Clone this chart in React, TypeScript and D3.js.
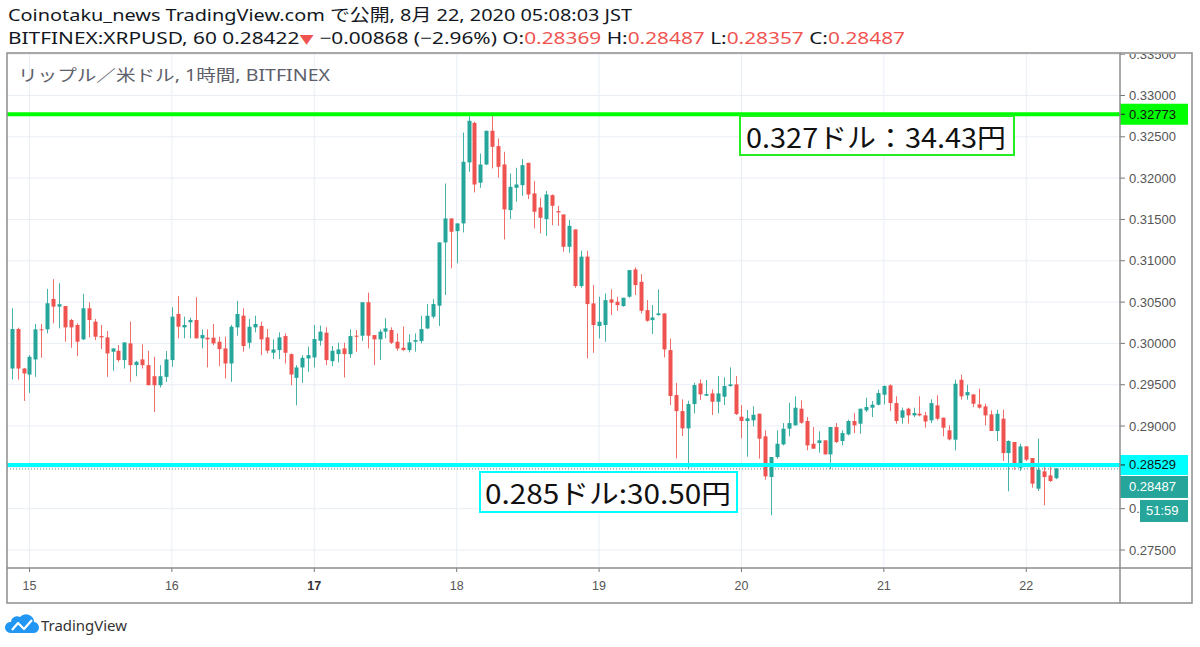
import React from 'react';
import * as d3 from 'd3';

// Hour index of first candle, relative to Aug 15 00:00 JST (1h candles)
const firstHour = -3;

const opens = [
  .29696,.30174,.29696,.29623,.29806,.30170,.30170,.30538,.30445,.30453,.30283,.30223,.30049,
  .30425,.30263,.30089,.30073,.29899,.29911,.29798,.30000,.29737,.29806,
  .29737,.29603,.29494,.29595,.29798,.30356,.30194,.30255,.30283,.30061,
  .30069,.30069,.30020,.29939,.29757,.30194,.30336,.30008,.30194,.30211,
  .30073,.29887,.29919,.30089,.29870,.29583,.29709,.29818,.29830,.30032,
  .30130,.29785,.29870,.29939,.29870,.30093,.30093,.30498,.30101,.30049,
  .30142,.30162,.30020,.29947,.29919,.30020,.30028,.30181,.30323,.30456,
  .31222,.31512,.31359,.31452,.32190,.32669,.31944,.32165,.32573,.32387,
  .32165,.31613,.31883,.31915,.32185,.31815,.31645,.31504,.31794,.31601,
  .31560,.31169,.31379,.30694,.31050,.30484,.30210,.30222,.30532,.30504,
  .30452,.30565,.30895,.30746,.30403,.30282,.30343,.30363,.29919,.29375,
  .29181,.28972,.29266,.29516,.29367,.29395,.29294,.29355,.29484,.29504,
  .29113,.29061,.29069,.29149,.28875,.28383,.28625,.28778,.28968,.29008,
  .29210,.29061,.28786,.28794,.28827,.28657,.28988,.28819,.28899,.29061,
  .29028,.29190,.29222,.29258,.29379,.29492,.29278,.29101,.29210,.29129,
  .29149,.29129,.29069,.29250,.29101,.28948,.28835,.29560,.29371,.29383,
  .29262,.29238,.29141,.28940,.29089,.28673,.28807,.28496,.28754,.28613,
  .28242,.28452,.28403,.28369,
];
const highs = [
  .30425,.30190,.29704,.29858,.30235,.30235,.30660,.30777,.30729,.30453,.30296,.30243,.30599,
  .30498,.30296,.30223,.30150,.29939,.29980,.30012,.30263,.29789,.29988,
  .29911,.29838,.29737,.29907,.30437,.30575,.30324,.30312,.30559,.30170,
  .30170,.30235,.30081,.30081,.30223,.30514,.30425,.30296,.30336,.30263,
  .30174,.30049,.30134,.30121,.29879,.29737,.29858,.29960,.30223,.30215,
  .30194,.29968,.30008,.30008,.30170,.30162,.30498,.30615,.30101,.30170,
  .30304,.30194,.30121,.30206,.30109,.30121,.30335,.30476,.30536,.31222,
  .31935,.31512,.31452,.32552,.32750,.32681,.32298,.32573,.32773,.32480,
  .32319,.32056,.32125,.32230,.32185,.31964,.31762,.31843,.31802,.31665,
  .31560,.31492,.31379,.31121,.31121,.30706,.30565,.30605,.30653,.30565,
  .30552,.30887,.30919,.30839,.30524,.30464,.30653,.30363,.30060,.29524,
  .29323,.29306,.29524,.29565,.29556,.29444,.29605,.29589,.29710,.29605,
  .29254,.29194,.29238,.29149,.28948,.28625,.28948,.29036,.29282,.29359,
  .29310,.29109,.28988,.28936,.28827,.28988,.29036,.28948,.29077,.29157,
  .29210,.29343,.29302,.29440,.29492,.29504,.29359,.29222,.29222,.29222,
  .29359,.29170,.29323,.29371,.29101,.29008,.29560,.29621,.29500,.29383,
  .29452,.29270,.29190,.29198,.29198,.28827,.28807,.28786,.28754,.28613,
  .28847,.28512,.28552,.28487,
];
const lows = [
  .29563,.29563,.29304,.29401,.29595,.29826,.30121,.30243,.30182,.30020,.29947,.29846,.30040,
  .30073,.30040,.29931,.29595,.29668,.29777,.29696,.29534,.29603,.29696,
  .29494,.29170,.29466,.29534,.29717,.30061,.30061,.30061,.30061,.29939,
  .29709,.29980,.29725,.29575,.29534,.30093,.29899,.29939,.30134,.29858,
  .29879,.29810,.29810,.29757,.29494,.29251,.29522,.29656,.29709,.29972,
  .29737,.29725,.29769,.29587,.29826,.29899,.30032,.29939,.29737,.29798,
  .30061,.29992,.29911,.29911,.29891,.29899,.30000,.30173,.30302,.30210,
  .30585,.30907,.30968,.31343,.32077,.31827,.31883,.32157,.32117,.32004,
  .31258,.31504,.31714,.31786,.31746,.31391,.31331,.31302,.31431,.31423,
  .31109,.31097,.30673,.30673,.29819,.29887,.30060,.30020,.30343,.30395,
  .30444,.30552,.30585,.30363,.30262,.30113,.30335,.29831,.29254,.28609,
  .28879,.28488,.29153,.29315,.29363,.29133,.29153,.29254,.29476,.29133,
  .28851,.28629,.28996,.28605,.28351,.27919,.28605,.28766,.28875,.29008,
  .29028,.28706,.28726,.28677,.28657,.28476,.28794,.28766,.28887,.28915,
  .28907,.29169,.29109,.29250,.29262,.29181,.29028,.29028,.29028,.29109,
  .29117,.28980,.29036,.29069,.28875,.28827,.28706,.29319,.29319,.29230,
  .29210,.29008,.28940,.28819,.28577,.28210,.28472,.28456,.28577,.28254,
  .28214,.28040,.28323,.28357,
];
const closes = [
  .30174,.29696,.29636,.29838,.30170,.30160,.30486,.30445,.30474,.30194,.30194,.30020,.30425,
  .30283,.30081,.30073,.29879,.29939,.29798,.30012,.29737,.29777,.29737,
  .29494,.29494,.29603,.29806,.30324,.30202,.30223,.30283,.30061,.30101,
  .30049,.30000,.29931,.29757,.30202,.30356,.29968,.30202,.30235,.30049,
  .29911,.29927,.30073,.29887,.29623,.29709,.29826,.29858,.30053,.30142,
  .29798,.29911,.29927,.29870,.30089,.30089,.30498,.30093,.30049,.30142,
  .30182,.30008,.29939,.29919,.30012,.30040,.30173,.30335,.30476,.31222,
  .31512,.31351,.31452,.32198,.32694,.31923,.32165,.32573,.32379,.32137,
  .31621,.31895,.31923,.32157,.31802,.31593,.31520,.31802,.31665,.31585,
  .31169,.31423,.30694,.31050,.30476,.30222,.30262,.30524,.30492,.30464,
  .30552,.30887,.30706,.30395,.30274,.30314,.30363,.29927,.29363,.29181,
  .28972,.29266,.29496,.29383,.29387,.29294,.29395,.29484,.29504,.29145,
  .29061,.29093,.29137,.28847,.28391,.28625,.28786,.28968,.29036,.29222,
  .29040,.28766,.28726,.28827,.28657,.28988,.28807,.28915,.29061,.29008,
  .29210,.29230,.29258,.29399,.29484,.29278,.29061,.29190,.29129,.29157,
  .29129,.29055,.29278,.29089,.28980,.28839,.29512,.29359,.29411,.29270,
  .29222,.29129,.28940,.29149,.28673,.28819,.28504,.28754,.28593,.28303,
  .28472,.28383,.28335,.28487,
];

const dayLabels = ['15', '16', '17', '18', '19', '20', '21', '22'];
const boldDay = '17';
// 0.285 tick label is hidden behind the 0.28529 level label in the reference
const priceTicks = [0.275, 0.28, 0.29, 0.295, 0.3, 0.305, 0.31, 0.315, 0.32, 0.325, 0.33, 0.335];
const gridPrices = [0.275, 0.28, 0.285, 0.29, 0.295, 0.3, 0.305, 0.31, 0.315, 0.32, 0.325, 0.33, 0.335];

const resistance = 0.32773;
const support = 0.28529;
const lastPrice = 0.28487;
const countdown = '51:59';

const headerLine1 = 'Coinotaku_news TradingView.com で公開, 8月 22, 2020 05:08:03 JST';
const symbolText = 'BITFINEX:XRPUSD, 60 0.28422';
const changeText = ' −0.00868 (−2.96%) ';
const ohlcHeader = [
  ['O:', '0.28369'],
  ['H:', '0.28487'],
  ['L:', '0.28357'],
  ['C:', '0.28487'],
];
const subtitle = 'リップル／米ドル, 1時間, BITFINEX';
const noteTop = '0.327ドル：34.43円';
const noteBottom = '0.285ドル:30.50円';

const UP = '#26a69a';
const DOWN = '#ef5350';
const GRID = '#e9eef5';
const FRAME = '#8d8d8d';
const AXIS_FONT = "'Liberation Sans', Arial, sans-serif";
const HEAD_FONT = "'Noto Sans', 'Noto Sans CJK JP', sans-serif";
const JP_FONT = "'Noto Sans CJK JP', sans-serif";

export default function App() {
  const L = 7, T = 53, R = 1120, B = 568, AR = 1192, AB = 603;
  const x = d3.scaleLinear().domain([-3.79, 183.8]).range([L, R]);
  const y = d3.scaleLinear().domain([0.272822, 0.33514]).range([B, T]);
  const fmt = d3.format('.5f');

  const candles = opens.map((o, k) => ({
    h: firstHour + k,
    o,
    hi: highs[k],
    lo: lows[k],
    c: closes[k],
  }));
  const bw = 4;

  const yRes = y(resistance);
  const ySup = y(support);
  const yLast = y(lastPrice);

  return (
    <div style={{ position: 'absolute', left: 0, top: 0 }}>
      <svg width={1200} height={647} style={{ display: 'block', background: '#fff' }}>
        <defs>
          <clipPath id="plotClip">
            <rect x={L} y={T} width={R - L} height={B - T} />
          </clipPath>
          <clipPath id="axisClip">
            <rect x={R} y={T + 1} width={AR - R} height={B - T - 1} />
          </clipPath>
        </defs>
        <rect x={0} y={0} width={1200} height={647} fill="#fff" />

        {/* header */}
        <text x={8} y={21} fontFamily={HEAD_FONT} fontSize={17} fill="#131722" textLength={624} lengthAdjust="spacingAndGlyphs">
          {headerLine1}
        </text>
        <text x={8} y={44} fontFamily={HEAD_FONT} fontSize={17} fill="#131722" textLength={897} lengthAdjust="spacingAndGlyphs">
          <tspan>{symbolText}</tspan>
          <tspan fill={DOWN} fontSize={12}>▼</tspan>
          <tspan>{changeText}</tspan>
          {ohlcHeader.map(([k, v], idx) => (
            <React.Fragment key={k}>
              <tspan>{(idx > 0 ? ' ' : '') + k}</tspan>
              <tspan fill={DOWN}>{v}</tspan>
            </React.Fragment>
          ))}
        </text>

        {/* grid */}
        <g clipPath="url(#plotClip)">
          {gridPrices.map((p) => (
            <line key={'hg' + p} x1={L} x2={R} y1={y(p)} y2={y(p)} stroke={GRID} strokeWidth={1} />
          ))}
          {dayLabels.map((d, k) => (
            <line key={'vg' + d} x1={x(k * 24)} x2={x(k * 24)} y1={T} y2={B} stroke={GRID} strokeWidth={1} />
          ))}
        </g>

        <text x={18} y={81} fontFamily={HEAD_FONT} fontSize={16} fill="#5d606b" textLength={312} lengthAdjust="spacingAndGlyphs">
          {subtitle}
        </text>

        {/* candles */}
        <g clipPath="url(#plotClip)">
          {candles.map((d) => {
            const col = d.c >= d.o ? UP : DOWN;
            const cx = Math.round(x(d.h)) + 0.5;
            const top = y(Math.max(d.o, d.c));
            const bot = y(Math.min(d.o, d.c));
            return (
              <g key={d.h}>
                <line x1={cx} x2={cx} y1={y(d.hi)} y2={y(d.lo)} stroke={col} strokeWidth={1} strokeOpacity={0.85} />
                <rect x={cx - bw / 2} y={top} width={bw} height={Math.max(1, bot - top)} fill={col} />
              </g>
            );
          })}
          {/* last price dotted line */}
          <line x1={L} x2={R} y1={yLast + 0.5} y2={yLast + 0.5} stroke="#4f8f8a" strokeWidth={1} strokeDasharray="1 2" />
          {/* horizontal drawings */}
          <line x1={L} x2={R} y1={yRes} y2={yRes} stroke="#00ff00" strokeWidth={4} />
          <line x1={L} x2={R} y1={ySup} y2={ySup} stroke="#00ffff" strokeWidth={4} />
        </g>

        {/* annotation boxes */}
        <rect x={740} y={116} width={274} height={39} fill="#fff" stroke="#22ee22" strokeWidth={2} />
        <text x={746} y={136} dominantBaseline="central" fontFamily={JP_FONT} fontSize={27} fill="#111" textLength={260} lengthAdjust="spacingAndGlyphs">
          {noteTop}
        </text>
        <rect x={480} y={472} width={257} height={40} fill="#fff" stroke="#00ffff" strokeWidth={2} />
        <text x={485} y={492} dominantBaseline="central" fontFamily={JP_FONT} fontSize={27} fill="#111" textLength={246} lengthAdjust="spacingAndGlyphs">
          {noteBottom}
        </text>

        {/* price axis */}
        <g clipPath="url(#axisClip)">
          {gridPrices.map((p) => (
            <line key={'ptk' + p} x1={R} x2={R + 5} y1={y(p)} y2={y(p)} stroke="#777" strokeWidth={1} />
          ))}
          {priceTicks.map((p) => (
            <text key={'pt' + p} x={R + 9} y={y(p)} dominantBaseline="central" fontFamily={AXIS_FONT} fontSize={13} fill="#555">
              {fmt(p)}
            </text>
          ))}
        </g>

        {/* price labels */}
        <rect x={R} y={yRes - 10.5} width={68} height={21} fill="#00ff00" />
        <line x1={R} x2={R + 5} y1={yRes} y2={yRes} stroke="#222" />
        <text x={R + 9} y={yRes} dominantBaseline="central" fontFamily={AXIS_FONT} fontSize={13} fill="#111">
          {fmt(resistance)}
        </text>
        <rect x={R} y={ySup - 10} width={68} height={20} fill="#00ffff" />
        <line x1={R} x2={R + 5} y1={ySup} y2={ySup} stroke="#222" />
        <text x={R + 9} y={ySup} dominantBaseline="central" fontFamily={AXIS_FONT} fontSize={13} fill="#111">
          {fmt(support)}
        </text>
        <rect x={R} y={ySup + 11} width={68} height={22} fill={UP} />
        <text x={R + 9} y={ySup + 22} dominantBaseline="central" fontFamily={AXIS_FONT} fontSize={13} fill="#fff">
          {fmt(lastPrice)}
        </text>
        <rect x={R + 20} y={ySup + 35} width={48} height={22} fill={UP} />
        <text x={R + 26} y={ySup + 46} dominantBaseline="central" fontFamily={AXIS_FONT} fontSize={13} fill="#fff">
          {countdown}
        </text>

        {/* time axis */}
        {dayLabels.map((d, k) => (
          <g key={'dt' + d}>
            <line x1={x(k * 24)} x2={x(k * 24)} y1={B} y2={B + 4} stroke="#777" />
            <text
              x={x(k * 24)}
              y={586}
              textAnchor="middle"
              dominantBaseline="central"
              fontFamily={AXIS_FONT}
              fontSize={12.5}
              fontWeight={d === boldDay ? 'bold' : 'normal'}
              fill={d === boldDay ? '#333' : '#555'}
            >
              {d}
            </text>
          </g>
        ))}

        {/* frame */}
        <rect x={L} y={T} width={AR - L} height={AB - T} fill="none" stroke={FRAME} strokeWidth={1.5} />
        <line x1={R} x2={R} y1={T} y2={AB} stroke={FRAME} strokeWidth={1.5} />
        <line x1={L} x2={AR} y1={B} y2={B} stroke={FRAME} strokeWidth={1.5} />

        {/* TradingView logo */}
        <g>
          <path
            d="M10,633 L33,633 A5.5,5.5 0 0 0 34,622 A8,8 0 0 0 20,617 A6,6 0 0 0 11,622 A5.5,5.5 0 0 0 10,633 Z"
            fill="#2196f3"
          />
          <polyline points="12,630 18,623 24,629 32,620" fill="none" stroke="#fff" strokeWidth={2.2} strokeLinejoin="round" />
          <text x={41} y={631} fontFamily={HEAD_FONT} fontSize={14} fill="#333" textLength={86} lengthAdjust="spacingAndGlyphs">
            TradingView
          </text>
        </g>
      </svg>
    </div>
  );
}
